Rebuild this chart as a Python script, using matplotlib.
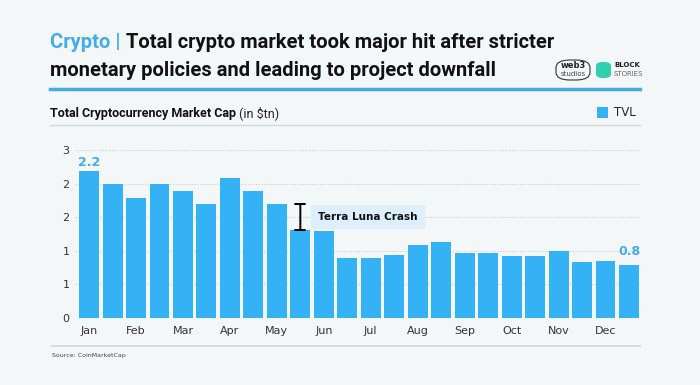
import matplotlib.pyplot as plt
from matplotlib.patches import FancyBboxPatch, Rectangle
from matplotlib.lines import Line2D

# data (two bars per month, $tn)
months = ['Jan', 'Feb', 'Mar', 'Apr', 'May', 'Jun', 'Jul', 'Aug', 'Sep', 'Oct', 'Nov', 'Dec']
tvl = [2.19, 1.99, 1.79, 1.99, 1.89, 1.69, 2.09, 1.89, 1.69, 1.31, 1.29, 0.89,
       0.89, 0.94, 1.09, 1.13, 0.97, 0.96, 0.93, 0.92, 0.99, 0.83, 0.85, 0.79]
ytick_vals = [0, 0.5, 1.0, 1.5, 2.0, 2.5]
ytick_labels = ['0', '1', '1', '2', '2', '3']
first_label = '2.2'
last_label = '0.8'
crash_from, crash_to = 8, 9

bg = '#F4F7F8'
blue = '#35B1F5'
title_blue = '#45ACE6'
narrow = ['Liberation Sans Narrow', 'Roboto', 'DejaVu Sans']

fig = plt.figure(figsize=(7, 3.85), dpi=100, facecolor=bg)
W, H = 700, 385


def fx(px):
    return px / W


def fy(py):
    return 1 - py / H


# full-figure layer for header / footer
lay = fig.add_axes([0, 0, 1, 1])
lay.set_xlim(0, 1)
lay.set_ylim(0, 1)
lay.axis('off')

# header
t1 = lay.text(fx(50), fy(42), 'Crypto | ', color=title_blue, fontsize=14.5,
              fontweight='bold', family=narrow, va='center')
lay.annotate('Total crypto market took major hit after stricter', xy=(1, 0.5),
             xycoords=t1, va='center', ha='left', fontsize=14.5,
             fontweight='bold', family=narrow, color='#111111')
lay.text(fx(50), fy(70), 'monetary policies and leading to project downfall',
         color='#111111', fontsize=14.5, fontweight='bold', family=narrow, va='center')
lay.add_line(Line2D([fx(50), fx(640)], [fy(89), fy(89)], color=title_blue, lw=2.5))

# logos (approximation)
lay.add_patch(FancyBboxPatch((fx(556), fy(80)), fx(34), fy(60) - fy(80),
                             boxstyle='round,pad=0,rounding_size=0.02',
                             fc='none', ec='#333333', lw=0.8))
lay.text(fx(573), fy(65), 'web3', fontsize=6, fontweight='bold', ha='center', va='center',
         color='#222222')
lay.text(fx(573), fy(74), 'studios', fontsize=5, ha='center', va='center', color='#444444')
lay.add_patch(FancyBboxPatch((fx(596), fy(78)), fx(15), fy(62) - fy(78),
                             boxstyle='round,pad=0,rounding_size=0.01',
                             fc='#2FCFB0', ec='none'))
lay.text(fx(614), fy(65), 'BLOCK', fontsize=5, fontweight='bold', va='center', color='#222222')
lay.text(fx(614), fy(74), 'STORIES', fontsize=5, va='center', color='#666666')

# subtitle + legend
st = lay.text(fx(50), fy(113), 'Total Cryptocurrency Market Cap ', fontsize=9,
              fontweight='bold', family=narrow, va='center', color='#111111')
lay.annotate('(in $tn)', xy=(1, 0.5), xycoords=st, va='center', fontsize=9,
             family=narrow, color='#222222')
lay.add_patch(Rectangle((fx(597), fy(118)), fx(11), fy(107) - fy(118), fc=blue, ec='none'))
lay.text(fx(614), fy(112.5), 'TVL', fontsize=8.5, va='center', color='#222222')
lay.add_line(Line2D([fx(50), fx(640)], [fy(125), fy(125)], color='#D3D7D9', lw=1))

# footer
lay.add_line(Line2D([fx(52), fx(640)], [fy(346), fy(346)], color='#CFD3D5', lw=1.2))
lay.text(fx(52), fy(356), 'Source: CoinMarketCap', fontsize=4.5, va='center', color='#444444')

# chart
ax = fig.add_axes([fx(75), fy(318), fx(565), fy(150) - fy(318)])
ax.set_facecolor(bg)
x = list(range(len(tvl)))
ax.bar(x, tvl, width=0.85, color=blue, zorder=3)
ax.set_xlim(-0.6, 23.47)
ax.set_ylim(0, 2.5)
ax.set_yticks(ytick_vals)
ax.set_yticklabels(ytick_labels)
ax.set_xticks(x[::2])
ax.set_xticklabels(months)
ax.tick_params(length=0, labelsize=8, colors='#333333')
ax.tick_params(axis='y', pad=4)
ax.tick_params(axis='x', pad=6)
for s in ax.spines.values():
    s.set_visible(False)
ax.grid(axis='y', linestyle=(0, (1, 1.5)), color='#C9CDCF', lw=0.8, zorder=0)

ax.annotate(first_label, (0, tvl[0]), xytext=(0, 1.5), textcoords='offset points',
            ha='center', va='bottom', color=title_blue, fontsize=9, fontweight='bold')
ax.annotate(last_label, (23, tvl[-1]), xytext=(0, 5), textcoords='offset points',
            ha='center', va='bottom', color=title_blue, fontsize=9, fontweight='bold')

ax.annotate('', xy=(crash_to, tvl[crash_to]), xytext=(crash_to, tvl[crash_from]),
            arrowprops=dict(arrowstyle='|-|,widthA=0.35,widthB=0.35', color='black',
                            lw=1.4, shrinkA=0, shrinkB=0), zorder=5)
ax.text(crash_to + 0.75, (tvl[crash_from] + tvl[crash_to]) / 2, 'Terra Luna Crash',
        fontsize=7.5, fontweight='bold', va='center', ha='left', color='#111111', zorder=5,
        bbox=dict(boxstyle='square,pad=0.7', fc='#DDEFFA', ec='none'))

fig.savefig('out.png', dpi=100, facecolor=bg)
